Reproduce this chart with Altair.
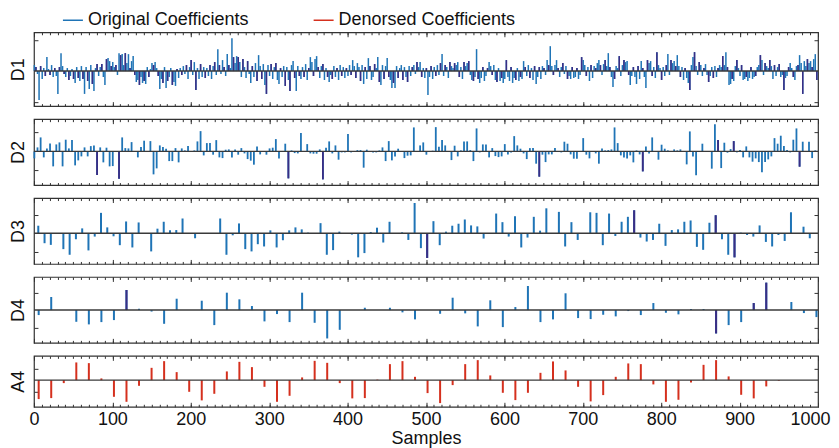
import altair as alt
import pandas as pd

# ---------------- data (amplitudes) ----------------
SERIES = ["Original Coefficients", "Denorsed Coefficients"]
COLORS = ["#1f74b6", "#d5301e"]
DARK = "#3a2d84"

x_major = [0, 100, 200, 300, 400, 500, 600, 700, 800, 900, 1000]
x_minor = list(range(0, 1001, 10))

d1_values = [
    6, 4, -3, -29, 5, -8, 3, -5, 14, 2,
    -4, 6, -6, 3, -5, -23, 4, 18, 5, -3,
    -6, 3, -9, -5, 2, -8, -12, 4, -7, -10,
    5, -8, -23, 4, -10, -18, 6, -13, -20, 3,
    7, -5, 4, 7, -6, -14, 12, 13, 10, 5,
    9, 4, 6, -4, 18, 16, 17, 6, 18, 8,
    17, 3, 10, 15, -4, -11, -9, -14, -6, -12,
    -10, -13, 4, -6, 2, 8, 6, 9, 3, -5,
    -18, -8, -12, 4, -17, -10, -6, 3, -14, -11,
    -15, 2, -7, 3, -4, 5, -3, 6, -8, 4,
    11, -4, 9, -19, 3, -8, 7, -6, 4, -7,
    3, -5, 6, -8, 5, 9, -4, 22, 6, -3,
    11, 4, -5, 17, 6, 3, 33, 14, 8, 15,
    14, 9, -6, 12, 4, -7, 10, -3, -12, 5,
    -6, 8, -10, 16, 5, -8, 7, -14, -23, 6,
    -5, 7, -8, 4, 8, -9, -13, 3, -6, 5,
    -15, 4, -9, -20, 6, 10, -7, -20, 5, -5,
    -8, 4, -6, 7, -9, 3, 14, 9, -5, 12,
    15, 4, -7, 5, 7, -9, 3, -6, -11, -4,
    -8, 5, -6, 3, -9, 6, -5, 4, -7, 3,
    -5, 6, -4, 11, 5, -7, 8, 4, -10, 6,
    -13, 4, -8, 13, 5, -9, -6, 7, 3, 14,
    -11, -14, 6, -8, 5, 13, -6, -9, -17, -12,
    -17, 5, -7, 3, 6, -9, 4, -6, -11, 5,
    -5, 4, 6, -3, 9, 4, 9, -6, 3, -7,
    3, -24, -6, 5, -8, 4, -5, 6, -4, 8,
    17, -5, 6, 4, -7, 9, 5, 3, 8, 6,
    9, -6, 4, -8, 9, 5, 8, 10, -4, -9,
    -10, -6, 22, -8, -12, -7, 4, -10, -5, 3,
    9, 5, -4, 6, -9, -11, 3, -10, -7, -12,
    -8, 11, -6, -10, 4, -12, -7, -9, 3, -10,
    -6, -8, 10, 4, -5, 6, -7, 3, -9, 5,
    -13, -6, 4, -8, 5, 3, -4, 11, 6, 25,
    5, -4, 6, 11, 3, -6, 4, 8, -3, 5,
    -8, -5, -8, 4, -7, -6, 3, -8, -4, 14,
    11, 6, -5, 4, -10, 6, -7, 5, 3, 8,
    11, 6, -4, 7, 11, 5, 18, 4, -6, -16,
    -8, 5, 3, 15, -5, 6, 11, 9, 10, -4,
    -14, -5, 4, -6, -13, 5, -8, 10, 3, -6,
    -17, 11, 8, 10, -5, 4, -7, 19, 6, 3,
    -9, 4, -5, 6, 17, -4, 11, 8, 10, 5,
    16, 5, -6, 4, -9, 3, -7, -12, -19, 6,
    14, 19, 5, -4, 9, 6, -5, 3, 7, -4,
    -11, -5, 4, -7, 5, -6, 3, 6, 4, 15,
    6, 19, 4, -14, -13, -8, -10, 5, 11, 3,
    -5, 6, -9, -8, -6, -10, -7, 4, -8, -6,
    -5, 4, 6, 16, 11, -4, 8, 5, 3, 11,
    5, -8, 6, -5, 4, 7, -6, -4, -19, -7,
    -5, 4, 8, 3, -6, -9, 5, 6, 16, 8,
    -23, 10, 5, 12, 8, 10, 4, 12, 17, -9,
]

d2_values = [
    -7, 4, 14, -6, 3, 8, -15, 7, 9, -15,
    11.7, 3, 11.3, -14, -9, -5, 4, -5, 5.3, 6,
    -23.7, 4, -11, 3.7, -15, -14.7, 0, -27.3, 14, 3.3,
    3, 9.3, 0, -6, 4.3, 10.7, 0, 10.3, -23, -17,
    6, 4.3, 2.7, -9.7, -9.7, 3.3, -11, 3, 1, 5.3,
    0, 1, 10, 20.3, -4, 8.3, 8.3, -3.3, 11.3, -6,
    -6.7, 1.7, 2, -6, 2, -3.3, 3.3, -2, -7.7, -9.3,
    -13.3, 5, -3, 0, -3.3, 3, 3.7, 12.3, -7, 0,
    7.7, -27, 1, -1.7, -2, 18.3, 0, 7.3, -2, -2.3,
    -2.3, 2, -28, 3.7, 10, -2, 6, -8.3, -1, -1,
    17.3, -1, 0, 1.3, 1.3, -16.3, 1.7, 0, -1, -1,
    1, 4, -9.7, 10.3, -9, -5, 2.7, 0, -6.7, -4.3,
    -4, 24, 0, 6, 9, -3.3, 0, 0.7, 24.3, 4.7,
    11.3, 6, 0, -8.7, 5.7, -5, 1, 10, 10, 1.3,
    -9.7, 23, -1, 7, 7, -6, 3.3, -4.7, -5.7, -5,
    7.3, -3, -1, 15.3, 6, 2.7, -2, -7.7, 3.3, 3.3,
    -12.3, -25.3, -3.3, -10.7, -3, -3, 3.3, 0, -1, 9.7,
    7.7, -3, -7.3, -7.3, 0, 13.3, -3.3, -7, 0, -2,
    -12.3, 3, 1, 1.3, 2, 24, 8.3, -4, -6, -7,
    -4, -11, 1, -3, -20, 5, -2, 14, 0, -8.3,
    6.7, 2.7, 1, 0, 2, 1, 2, 0, -13, 20,
    -5, -24, 0, 7.7, 0, 0, -17.3, 27.3, 11.3, -16.7,
    8.7, -1.3, 2.3, 10.3, -1, 1.3, -6, 5, -6, -10.3,
    -7, -10.7, -21, -10.7, -8, -5, 13.3, 7.7, 15.7, 5.3,
    1.3, -1, 11.7, 23, -15.3, 9.7, 0, 9.7, -6.7, 1,
]

d3_values = [
    7.7, -10, -11.7, 0, -16, -21.7, -6, 5, -17.3, -3.3,
    20.7, 6, -3, -12, 12, -14.3, 11, 0, -18.3, 4.7,
    11.7, 3, 3.3, 15, 0, -5, 0, 0, 0, 15,
    -21.7, -2, 10, -16, -18.3, -11, -13.3, 3, -14.3, -7,
    3, 6, 4, 0.7, 0, 10.3, -21.7, -17, 1.7, 0,
    -1.3, -24.3, -20, 1.3, 5.7, -9.3, 11.7, 0, 1, -6.7,
    30.7, -15, -25, 12.3, -12, 1.7, 7.7, 9.7, 14, 8,
    7, -5.3, 0, 20, 11.3, -3.3, 17.3, -14.3, -4.3, 16.7,
    2.7, 25.3, 0, 21.7, -13.3, 11.3, -6.7, 0, 21.3, 20.7,
    -12, 20, -2.7, 11.7, 16.7, 23.3, -4.3, -8.3, -6.7, 9.7,
    -12.7, 3.3, 4, 11.7, 13, -13.7, -16.7, 10.7, 18.3, -6,
    -21.7, -24.3, 0.7, -1.7, -3.3, 8, -8.7, -13.3, -1.7, -7.7,
    21.3, 0, 6.7, -5, 0,
]

d4_values = [
    -5, 13, 0, -11.7, -14.3, -12, -10, 20, 1.3, -1.5,
    -13.7, 11.3, 0, 9.3, -15, 17.3, 10.7, 4, -11.3, -4,
    -12, 17.3, -12.7, -28.3, -19.7, 0, 2.3, 0, 2.3, -2.3,
    -9.3, 0, -3.7, 12.3, -3.3, -16.3, 9.7, -17, 3, 24,
    -12, -9.3, 16.7, -8, -9, -4.7, -6.3, -1, -5, 7,
    -2.7, -4.3, 1, 1, -23.3, -15, -12, 7, 27.3, 0,
    8, -3, -7,
]

a4_values = [
    -19, -18, -3, 17.7, 17, 1.7, -16.7, -21.7, -5.7, 12.3,
    19, 8, -11.7, -20.3, -13.7, 8.7, 18.3, 13, -6.7, -21.7,
    -15.7, 2.7, 19.3, 17.3, -3, -18.3, -18, 0.5, 16, 19,
    3.3, -13, -23, -5, 16, 20, 4.7, -12.7, -20, -12.7,
    7.3, 18.7, 9.7, -6.7, -21.3, -15, 3.3, 16.7, 16, -4.3,
    -21.7, -19.7, -2.3, 15.3, 20, 3.7, -14.7, -18.3, -6.3, -0.7,
    0, 0, 0,
]

# indices of coefficients drawn in the darker (overlapping) tone
d2_dark = [20, 27, 81, 92, 161, 194, 218, 223, 244]
d3_dark = [62, 95, 108, 111]
d4_dark = [7, 54, 57, 58]

panels = [
    dict(name="D1", values=d1_values, start=0.5, step=2, dom=[-35.3, 39], ticks=[-31, 31],
         h=74, sw=1.5, series=SERIES[0], dark=None),
    dict(name="D2", values=d2_values, start=0.5, step=4, dom=[-33.7, 32.3], ticks=[-19, 19],
         h=66, sw=1.8, series=SERIES[0], dark=d2_dark),
    dict(name="D3", values=d3_values, start=5.5, step=8, dom=[-31, 35.7], ticks=[-19, 19],
         h=66, sw=2, series=SERIES[0], dark=d3_dark),
    dict(name="D4", values=d4_values, start=6, step=16, dom=[-32.7, 33], ticks=[-17.5, 17.5],
         h=66, sw=2, series=SERIES[0], dark=d4_dark),
    dict(name="A4", values=a4_values, start=6, step=16, dom=[-26.7, 24.3], ticks=[-11.3, 11.3],
         h=51, sw=2, series=SERIES[1], dark=[]),
]

FONT = "Liberation Sans"
W = 785
x_scale = alt.Scale(domain=[0, 1000], nice=False, zero=False)
tick_df = pd.DataFrame({"t": [0], "u": [0]})
zero_df = pd.DataFrame({"a": [0], "b": [1000], "u": [0]})


def make_panel(p, last):
    n = len(p["values"])
    if p["dark"] is None:
        dark_flags = [k % 3 == 1 for k in range(n)]
    else:
        dark_flags = [k in p["dark"] for k in range(n)]
    df = pd.DataFrame({
        "sample": [p["start"] + p["step"] * k for k in range(n)],
        "value": p["values"],
        "series": [p["series"]] * n,
        "dark": dark_flags,
    })
    ysc = alt.Scale(domain=p["dom"], nice=False, zero=False)

    xb_kwargs = dict(orient="bottom", values=x_major, tickSize=4.5, offset=-4.5, domain=False,
                     grid=False, labels=last, labelFontSize=18, labelPadding=4, labelFont=FONT,
                     labelColor="#111", labelFlush=False, format="d",
                     labelOffset={"condition": {"test": "datum.value >= 1000", "value": -8},
                                  "value": 0},
                     title=("Samples" if last else None))
    if last:
        xb_kwargs.update(titleFontSize=18, titleFont=FONT, titleFontWeight="normal",
                         titlePadding=1, titleColor="#111")

    stems = alt.Chart(df).mark_rule(strokeWidth=p["sw"]).encode(
        x=alt.X("sample:Q", scale=x_scale, axis=alt.Axis(**xb_kwargs)),
        y=alt.Y("value:Q", scale=ysc,
                axis=alt.Axis(orient="left", values=p["ticks"], tickSize=4, offset=-4, domain=False,
                              grid=False, labels=False, title=p["name"], titleFontSize=18,
                              titleFont=FONT, titleFontWeight="normal", titlePadding=6,
                              titleColor="#111")),
        y2=alt.datum(0),
        color=alt.Color("series:N", scale=alt.Scale(domain=SERIES, range=COLORS),
                        legend=alt.Legend(orient="none", legendX=28, legendY=-23,
                                          direction="horizontal", title=None,
                                          symbolType="stroke", symbolSize=400,
                                          symbolStrokeWidth=1.5, labelFontSize=18,
                                          labelFont=FONT, labelColor="#111", labelLimit=400,
                                          columnPadding=62, labelOffset=4)),
    )
    dark = alt.Chart(df).transform_filter("datum.dark").mark_rule(
        strokeWidth=p["sw"], color=DARK).encode(
        x=alt.X("sample:Q", scale=x_scale, axis=None),
        y=alt.Y("value:Q", scale=ysc, axis=None),
        y2=alt.datum(0),
    )
    zero = alt.Chart(zero_df).mark_rule(color="#3a3a3a", strokeWidth=1.4).encode(
        x=alt.X("a:Q", scale=x_scale, axis=None),
        x2="b:Q",
        y=alt.Y("u:Q", scale=ysc, axis=None),
    )

    def tick_layer(xaxis=None, yaxis=None):
        return alt.Chart(tick_df).mark_point(opacity=0, size=1).encode(
            x=alt.X("t:Q", scale=x_scale, axis=xaxis),
            y=alt.Y("u:Q", scale=ysc, axis=yaxis),
        )

    minor_b = tick_layer(xaxis=alt.Axis(orient="bottom", values=x_minor, tickSize=2.5, offset=-2.5,
                                        domain=False, grid=False, labels=False, title=None))
    major_t = tick_layer(xaxis=alt.Axis(orient="top", values=x_major, tickSize=4.5, offset=-4.5,
                                        domain=False, grid=False, labels=False, title=None))
    minor_t = tick_layer(xaxis=alt.Axis(orient="top", values=x_minor, tickSize=2.5, offset=-2.5,
                                        domain=False, grid=False, labels=False, title=None))
    right_y = tick_layer(yaxis=alt.Axis(orient="right", values=p["ticks"], tickSize=4, offset=-4,
                                        domain=False, grid=False, labels=False, title=None))

    return alt.layer(stems, dark, zero, minor_b, major_t, minor_t, right_y).resolve_axis(
        x="independent", y="independent"
    ).properties(width=W, height=p["h"])


charts = [make_panel(p, i == len(panels) - 1) for i, p in enumerate(panels)]

chart = alt.vconcat(*charts, spacing=9).properties(
    padding={"left": 0, "top": 1, "right": 0, "bottom": 0}
).configure_view(stroke="#333333", strokeWidth=1.2).configure_axis(
    tickColor="#333333", tickWidth=1
)

chart.save("out.html", embed_options={"renderer": "svg", "actions": False})
